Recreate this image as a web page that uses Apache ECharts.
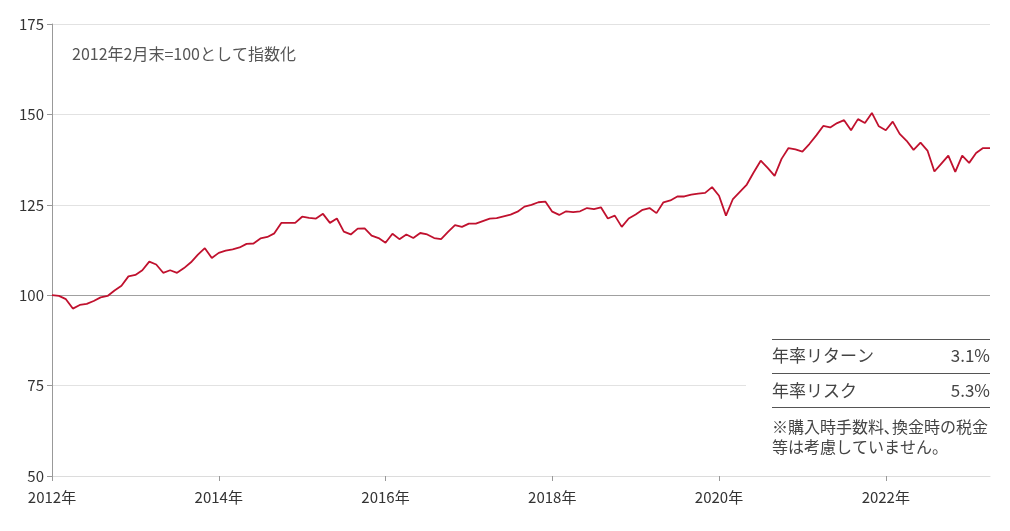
<!DOCTYPE html>
<html><head><meta charset="utf-8">
<script src="https://cdn.jsdelivr.net/npm/echarts@6/dist/echarts.min.js"></script>
<style>html,body{margin:0;padding:0;background:#fff}#c{width:1010px;height:531px}</style>
</head><body><div id="c"></div>
<script>
const startYear = 2012, startMonth = 2;
const values = [100,99.8,98.9,96.3,97.3,97.6,98.4,99.4,99.8,101.3,102.6,105.2,105.6,106.9,109.3,108.5,106.2,106.9,106.2,107.5,109.1,111.2,113.0,110.3,
111.7,112.3,112.7,113.2,114.2,114.3,115.7,116.1,117.1,120.0,120.0,120.0,121.7,121.4,121.2,122.5,120.0,121.2,117.6,116.8,118.4,118.5,116.5,115.8,
114.5,117.0,115.5,116.8,115.8,117.2,116.8,115.8,115.5,117.5,119.4,118.9,119.8,119.8,120.5,121.2,121.3,121.8,122.3,123.1,124.5,125.0,125.7,125.9,
123.1,122.2,123.2,123.0,123.2,124.1,123.8,124.3,121.2,122.0,118.9,121.2,122.3,123.6,124.1,122.7,125.7,126.2,127.3,127.3,127.8,128.1,128.3,129.9,
127.5,122.0,126.6,128.6,130.6,134.0,137.2,135.2,133.0,137.7,140.7,140.3,139.7,141.8,144.2,146.8,146.4,147.6,148.4,145.6,148.7,147.6,150.4,146.7,
145.6,148.0,144.6,142.7,140.2,142.2,140.0,134.2,136.4,138.6,134.1,138.6,136.6,139.3,140.7,140.7];
const yTicks = [50, 75, 100, 125, 150, 175];
const note = '2012年2月末=100として指数化';
const statLabels = ['年率リターン', '年率リスク'];
const statValues = ['3.1%', '5.3%'];
const footnote = ['※購入時手数料､換金時の税金', '等は考慮していません。'];

const categories = values.map((v, i) => {
  const m = startMonth - 1 + i;
  return (startYear + Math.floor(m / 12)) + '年' + (m % 12 + 1) + '月';
});
const font = '"Noto Sans CJK JP", "Noto Sans", sans-serif';
const chart = echarts.init(document.getElementById('c'));
const showIdx = (i) => i % 24 === 0;
chart.setOption({
  animation: false,
  textStyle: { fontFamily: font },
  grid: { left: 52, right: 20, top: 24, bottom: 55, containLabel: false },
  xAxis: {
    type: 'category', data: categories, boundaryGap: false,
    axisLine: { show: true, lineStyle: { color: '#dcdcdc' } },
    axisTick: { show: true, interval: showIdx, length: 5, lineStyle: { color: '#999' } },
    axisLabel: { interval: showIdx, color: '#333', fontSize: 15, margin: 14, fontFamily: font,
      formatter: (v) => v.split('年')[0] + '年' }
  },
  yAxis: {
    type: 'value', min: yTicks[0], max: yTicks[yTicks.length - 1], interval: 25,
    axisLine: { show: true, lineStyle: { color: '#999' } },
    axisTick: { show: true, length: 5, lineStyle: { color: '#999' } },
    axisLabel: { color: '#333', fontSize: 15, margin: 8, fontFamily: font },
    splitLine: { lineStyle: { color: '#e2e2e2' } }
  },
  series: [{
    type: 'line', data: values, symbol: 'none', z: 5,
    lineStyle: { color: '#c0112e', width: 1.8 },
    markLine: { silent: true, symbol: 'none', label: { show: false },
      lineStyle: { color: '#a0a0a0', width: 1, type: 'solid' },
      data: [{ yAxis: 100 }], z: 3 }
  }],
  graphic: [
    { type: 'text', left: 72, top: 46, z: 10, style: { text: note, font: '16px ' + font, fill: '#555' } },
    { type: 'rect', shape: { x: 746, y: 330, width: 262, height: 140 }, style: { fill: '#fff' }, z: 100 },
    { type: 'line', shape: { x1: 772, y1: 339.5, x2: 990, y2: 339.5 }, style: { stroke: '#555', lineWidth: 1 }, z: 101 },
    { type: 'line', shape: { x1: 772, y1: 373.5, x2: 990, y2: 373.5 }, style: { stroke: '#555', lineWidth: 1 }, z: 101 },
    { type: 'line', shape: { x1: 772, y1: 407.5, x2: 990, y2: 407.5 }, style: { stroke: '#555', lineWidth: 1 }, z: 101 },
    { type: 'text', x: 772, y: 356, z: 101, style: { text: statLabels[0], font: '17px ' + font, fill: '#444', verticalAlign: 'middle' } },
    { type: 'text', x: 990, y: 356, z: 101, style: { text: statValues[0], font: '17px ' + font, fill: '#444', align: 'right', verticalAlign: 'middle' } },
    { type: 'text', x: 772, y: 391, z: 101, style: { text: statLabels[1], font: '17px ' + font, fill: '#444', verticalAlign: 'middle' } },
    { type: 'text', x: 990, y: 391, z: 101, style: { text: statValues[1], font: '17px ' + font, fill: '#444', align: 'right', verticalAlign: 'middle' } },
    { type: 'text', x: 772, y: 427, z: 101, style: { text: footnote[0], font: '16px ' + font, fill: '#444', verticalAlign: 'middle' } },
    { type: 'text', x: 772, y: 447, z: 101, style: { text: footnote[1], font: '16px ' + font, fill: '#444', verticalAlign: 'middle' } }
  ]
});
</script></body></html>
